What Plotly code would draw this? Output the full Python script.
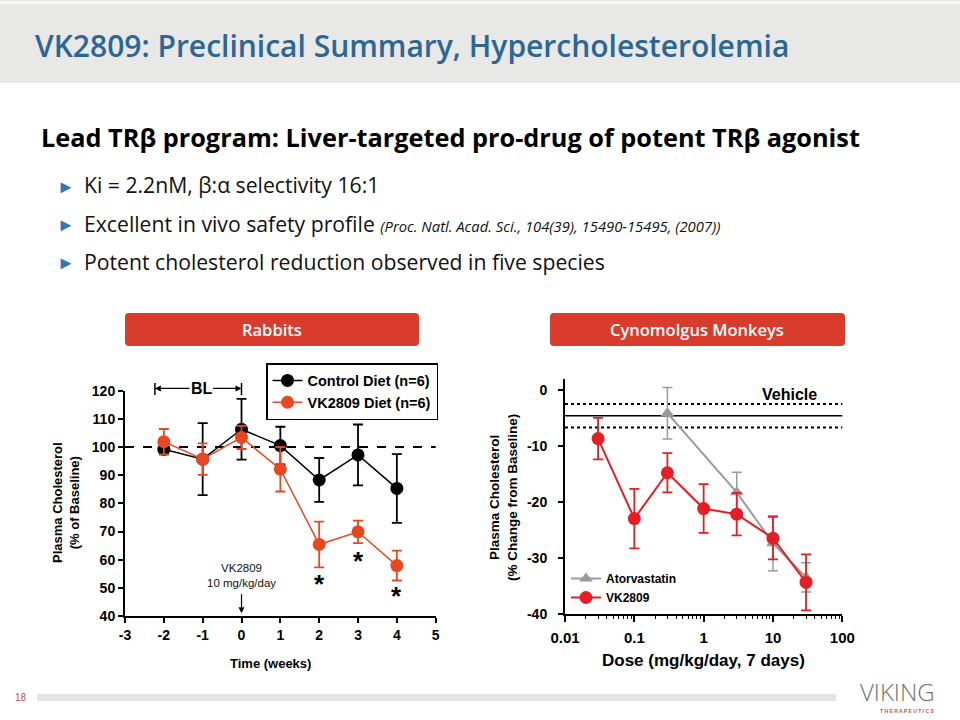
import plotly.graph_objects as go

# ---------------- data ----------------
weeks = [-2, -1, 0, 1, 2, 3, 4]
control_mean = [99.2, 95.7, 106.3, 100.5, 88.3, 97.2, 85.3]
control_err = [1.8, 12.8, 10.8, 6.7, 7.8, 10.8, 12.2]
vk_rabbit_mean = [101.9, 95.7, 103.4, 92.1, 65.4, 69.9, 57.9]
vk_rabbit_err = [4.5, 5.6, 4.1, 7.9, 8.1, 4.0, 5.3]
sig_weeks = [2, 3, 4]
sig_y = [51.5, 59.5, 47.0]

rabbit_xticks = [-3, -2, -1, 0, 1, 2, 3, 4, 5]
rabbit_xticktext = ["-3", "-2", "-1", "0", "1", "2", "3", "4", "5"]
rabbit_yticks = [40, 50, 60, 70, 80, 90, 100, 110, 120]
bl_start, bl_end, bl_level = -2.23, 0.0, 120.8

vk_doses = [0.03, 0.1, 0.3, 1, 3, 10, 30]
vk_monkey_mean = [-8.6, -22.9, -14.7, -21.1, -22.1, -26.4, -34.3]
vk_monkey_err = [3.7, 5.3, 3.5, 4.35, 3.8, 3.8, 5.0]
atorva_doses = [0.3, 3, 10, 30]
atorva_mean = [-4.05, -18.2, -27.3, -33.4]
atorva_err = [4.6, 3.6, 4.9, 2.6]
vehicle_mean = -4.5
vehicle_sem = 2.1

dose_ticks = [0.01, 0.1, 1, 10, 100]
dose_ticktext = ["0.01", "0.1", "1", "10", "100"]
dose_minor = [m * 10 ** e for e in range(-2, 2) for m in range(2, 10)]
monkey_yticks = [0, -10, -20, -30, -40]
monkey_yticktext = ["0", "-10", "-20", "-30", "-40"]

# ---------------- styles ----------------
W, H = 960, 720
CF = "Liberation Sans, Arial, sans-serif"
SF = "Open Sans, Noto Sans, sans-serif"
BLACK = "#000000"
ORANGE = "#e8481f"
RED = "#e31e25"
GRAY = "#9a9a9a"
BTN = "#d93c2c"
TITLE_BLUE = "#2c6694"
BULLET_BLUE = "#2e78b8"


def px(x):
    return x / W


def py(y):
    return 1 - y / H


fig = go.Figure()

# ---- rabbits ----
fig.add_trace(go.Scatter(
    x=weeks, y=control_mean, name="Control Diet (n=6)",
    mode="lines+markers",
    line=dict(color=BLACK, width=1.5),
    marker=dict(color=BLACK, size=13, symbol="circle"),
    error_y=dict(type="data", array=control_err, color=BLACK, thickness=1.8, width=5),
    xaxis="x", yaxis="y", legend="legend", cliponaxis=False))
fig.add_trace(go.Scatter(
    x=weeks, y=vk_rabbit_mean, name="VK2809 Diet (n=6)",
    mode="lines+markers",
    line=dict(color=ORANGE, width=1.5),
    marker=dict(color=ORANGE, size=13, symbol="circle"),
    error_y=dict(type="data", array=vk_rabbit_err, color=ORANGE, thickness=1.8, width=5),
    xaxis="x", yaxis="y", legend="legend", cliponaxis=False))

# ---- monkeys ----
fig.add_trace(go.Scatter(
    x=atorva_doses, y=atorva_mean, name="Atorvastatin",
    mode="lines+markers",
    line=dict(color=GRAY, width=2),
    marker=dict(color=GRAY, size=12, symbol="triangle-up"),
    error_y=dict(type="data", array=atorva_err, color=GRAY, thickness=1.5, width=5),
    xaxis="x2", yaxis="y2", legend="legend2", cliponaxis=False))
fig.add_trace(go.Scatter(
    x=vk_doses, y=vk_monkey_mean, name="VK2809",
    mode="lines+markers",
    line=dict(color=RED, width=2),
    marker=dict(color=RED, size=13, symbol="circle"),
    error_y=dict(type="data", array=vk_monkey_err, color=RED, thickness=1.8, width=5),
    xaxis="x2", yaxis="y2", legend="legend2", cliponaxis=False))

tickfont = dict(family=CF, size=14, color=BLACK, weight="bold")
axis_common = dict(showgrid=False, zeroline=False, showline=True, linecolor=BLACK,
                   linewidth=2, ticks="outside", tickcolor=BLACK, tickwidth=2,
                   automargin=False)

fig.update_layout(
    width=W, height=H,
    margin=dict(l=0, r=0, t=0, b=0, pad=0, autoexpand=False),
    paper_bgcolor="white", plot_bgcolor="white",
    showlegend=True,
    xaxis=dict(domain=[px(125), px(435.7)], range=[-3, 5], tickvals=rabbit_xticks,
               ticktext=rabbit_xticktext, ticklen=5, anchor="y", tickfont=tickfont,
               **axis_common),
    yaxis=dict(domain=[py(616), py(390.7)], range=[40, 120], tickvals=rabbit_yticks,
               ticklen=5, anchor="x", tickfont=tickfont, **axis_common),
    xaxis2=dict(domain=[px(565), px(842.3)], type="log", range=[-2, 2],
                tickvals=dose_ticks, ticktext=dose_ticktext, ticklen=6,
                ticklabelstandoff=3,
                minor=dict(tickvals=dose_minor, ticks="outside", ticklen=3,
                           tickcolor=BLACK, tickwidth=1.2, showgrid=False),
                anchor="y2", tickfont=dict(family=CF, size=15, color=BLACK, weight="bold"),
                **axis_common),
    yaxis2=dict(domain=[py(614.3), py(379.3)], range=[-40, 2], tickvals=monkey_yticks,
                ticktext=monkey_yticktext, ticklen=5, ticklabelstandoff=8, anchor="x2",
                tickfont=tickfont, **axis_common),
    legend=dict(x=px(266), y=py(363), xanchor="left", yanchor="top",
                bordercolor=BLACK, borderwidth=1.5, bgcolor="white",
                font=dict(family=CF, size=14.5, color=BLACK, weight="bold"),
                tracegroupgap=0, itemwidth=30),
    legend2=dict(x=px(566), y=py(564), xanchor="left", yanchor="top",
                 bgcolor="rgba(0,0,0,0)", borderwidth=0,
                 font=dict(family=CF, size=12, color=BLACK, weight="bold"),
                 tracegroupgap=0, itemwidth=30),
)

shapes = []
# header band
shapes.append(dict(type="rect", xref="paper", yref="paper", x0=0, x1=1, y0=py(83), y1=1,
                   fillcolor="#e8e8e6", line=dict(width=0), layer="below"))
shapes.append(dict(type="rect", xref="paper", yref="paper", x0=0, x1=1, y0=py(4), y1=py(1),
                   fillcolor="#f6f6f5", line=dict(width=0), layer="below"))


# buttons (rounded rects)
def rrect(x0, y0, x1, y1, r=4):
    X = lambda v: px(v)
    Y = lambda v: py(v)
    return (f"M {X(x0 + r)} {Y(y0)} L {X(x1 - r)} {Y(y0)} Q {X(x1)} {Y(y0)} {X(x1)} {Y(y0 + r)} "
            f"L {X(x1)} {Y(y1 - r)} Q {X(x1)} {Y(y1)} {X(x1 - r)} {Y(y1)} "
            f"L {X(x0 + r)} {Y(y1)} Q {X(x0)} {Y(y1)} {X(x0)} {Y(y1 - r)} "
            f"L {X(x0)} {Y(y0 + r)} Q {X(x0)} {Y(y0)} {X(x0 + r)} {Y(y0)} Z")


for bx0, bx1 in [(125, 419), (550, 845)]:
    shapes.append(dict(type="path", xref="paper", yref="paper", path=rrect(bx0, 313, bx1, 346),
                       fillcolor=BTN, line=dict(width=0)))

# baseline dashed line (rabbits)
shapes.append(dict(type="line", xref="x domain", yref="y", x0=0, x1=1, y0=100, y1=100,
                   line=dict(color=BLACK, width=2, dash="dash"), layer="below"))
# vehicle lines (monkeys)
shapes.append(dict(type="line", xref="x2 domain", yref="y2", x0=0, x1=1,
                   y0=vehicle_mean, y1=vehicle_mean, line=dict(color=BLACK, width=1.5),
                   layer="below"))
for v in [vehicle_mean + vehicle_sem, vehicle_mean - vehicle_sem]:
    shapes.append(dict(type="line", xref="x2 domain", yref="y2", x0=0, x1=1, y0=v, y1=v,
                       line=dict(color=BLACK, width=2, dash="dot"), layer="below"))
# footer bar
shapes.append(dict(type="rect", xref="paper", yref="paper", x0=px(37), x1=px(836),
                   y0=py(701), y1=py(694), fillcolor="#e4e4e4", line=dict(width=0)))
fig.update_layout(shapes=shapes)

ann = []


def text(x, y, t, size, color=BLACK, family=SF, weight="normal", xanchor="left",
         yanchor="middle", angle=0, italic=False):
    ann.append(dict(x=px(x), y=py(y), xref="paper", yref="paper", text=t, showarrow=False,
                    xanchor=xanchor, yanchor=yanchor, textangle=angle,
                    font=dict(family=family, size=size, color=color, weight=weight,
                              style="italic" if italic else "normal")))


# slide texts
text(33, 45, "VK2809: Preclinical Summary, Hypercholesterolemia", 30, TITLE_BLUE,
     weight=650)
text(39, 137, "Lead TRβ program: Liver-targeted pro-drug of potent TRβ agonist", 25.3,
     BLACK, weight="bold")
for yb, t in [
    (185, "Ki = 2.2nM, β:α selectivity 16:1"),
    (223, "Excellent in vivo safety profile <span style='font-size:14.8px'><i>(Proc. Natl. Acad. Sci., "
          "104(39), 15490-15495, (2007))</i></span>"),
    (261, "Potent cholesterol reduction observed in five species"),
]:
    text(55, yb + 1, "►", 18, BULLET_BLUE)
    text(82, yb, t, 21.2, "#111111")

text(272, 330, "Rabbits", 16.5, "white", weight=600, xanchor="center")
text(697, 330, "Cynomolgus Monkeys", 16.5, "white", weight=600, xanchor="center")

# axis titles
text(270, 663, "Time (weeks)", 13, family=CF, weight="bold", xanchor="center")
text(66, 503, "Plasma Cholesterol<br>(% of Baseline)", 13, family=CF, weight="bold",
     xanchor="center", angle=-90)
text(503, 498, "Plasma Cholesterol<br>(% Change from Baseline)", 13.5, family=CF, weight="bold",
     xanchor="center", angle=-90)
text(703, 660, "Dose (mg/kg/day, 7 days)", 17, family=CF, weight="bold", xanchor="center")

# footer
text(21, 697, "18", 10, "#c0504d", family=CF, xanchor="center")
text(897, 691, "VIKING", 24, "#707070", family=SF, weight=300, xanchor="center")
text(907, 711, "T H E R A P E U T I C S", 5, "#c0504d", family=CF, weight="bold",
     xanchor="center")

# rabbit chart annotations (BL bracket, drawn in y-domain units above the top)
bl_dom = (bl_level - 40) / (120 - 40)
cap_lo = (118.5 - 40) / 80
cap_hi = (123.3 - 40) / 80
ann.append(dict(x=bl_start, y=bl_dom, ax=-1.3, ay=bl_dom, xref="x", yref="y domain",
                axref="x", ayref="y domain",
                text="", showarrow=True, arrowhead=2, arrowsize=1, arrowwidth=1.2,
                arrowcolor=BLACK, standoff=0, startstandoff=0))
ann.append(dict(x=bl_end, y=bl_dom, ax=-0.77, ay=bl_dom, xref="x", yref="y domain",
                axref="x", ayref="y domain",
                text="", showarrow=True, arrowhead=2, arrowsize=1, arrowwidth=1.2,
                arrowcolor=BLACK, standoff=0, startstandoff=0))
for xc in [bl_start, bl_end]:
    ann.append(dict(x=xc, y=cap_lo, ax=xc, ay=cap_hi, xref="x", yref="y domain",
                    axref="x", ayref="y domain",
                    text="", showarrow=True, arrowhead=0, arrowwidth=1.5, arrowcolor=BLACK))
ann.append(dict(x=-1.03, y=bl_dom, xref="x", yref="y domain", text="BL", showarrow=False,
                yanchor="middle",
                font=dict(family=CF, size=16, color=BLACK, weight="bold")))
# dosing annotation
ann.append(dict(x=0, y=54.5, xref="x", yref="y", text="VK2809<br>10 mg/kg/day", showarrow=False,
                font=dict(family=CF, size=11.5, color="#111111"), yanchor="middle"))
ann.append(dict(x=0, y=41.0, ax=0, ay=48.3, xref="x", yref="y", axref="x", ayref="y",
                text="", showarrow=True, arrowhead=2, arrowsize=1, arrowwidth=1.2,
                arrowcolor=BLACK, standoff=0))
for sx, sy in zip(sig_weeks, sig_y):
    ann.append(dict(x=sx, y=sy, xref="x", yref="y", text="*", showarrow=False,
                    font=dict(family=CF, size=26, color=BLACK, weight="bold")))
# vehicle label
ann.append(dict(x=1.245, y=-0.8, xref="x2", yref="y2", text="Vehicle", showarrow=False,
                font=dict(family=CF, size=16, color=BLACK, weight="bold")))

fig.update_layout(annotations=ann)
fig.write_html("out.html",
               config={"displayModeBar": False},
               post_script="document.body.style.margin='0';"
                           "document.body.style.overflow='hidden';")
